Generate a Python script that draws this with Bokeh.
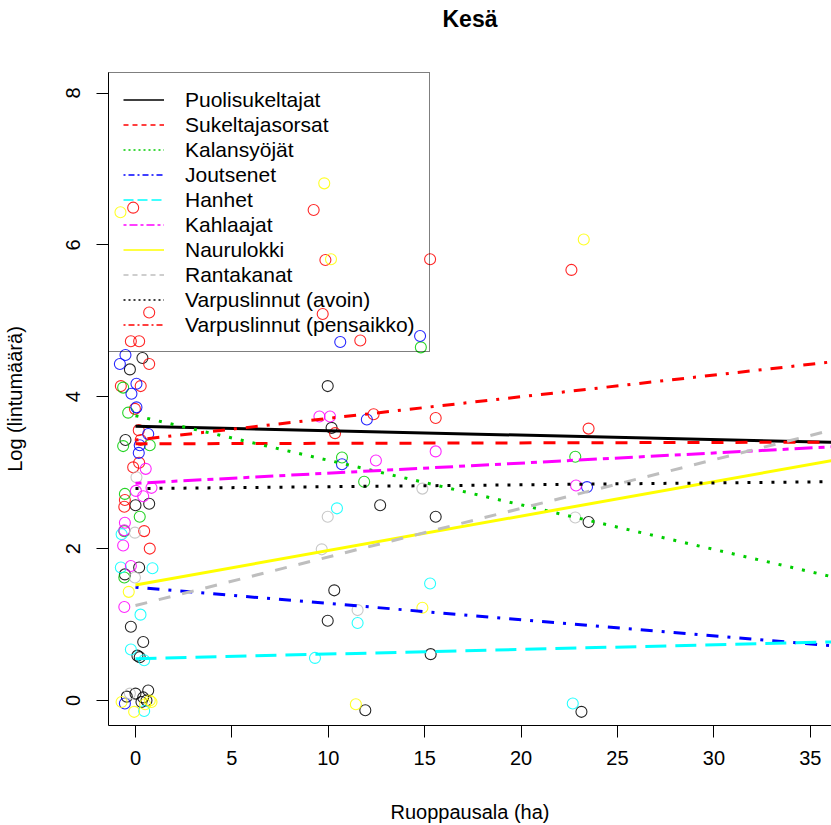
from bokeh.plotting import figure
from bokeh.models import Range1d, Legend, LegendItem, ColumnDataSource, FixedTicker, Title
from bokeh.embed import file_html
from bokeh.resources import INLINE

# ---------------- data ----------------
title_text = "Kesä"
groups = ["Puolisukeltajat", "Sukeltajasorsat", "Kalansyöjät", "Joutsenet", "Hanhet",
          "Kahlaajat", "Naurulokki", "Rantakanat", "Varpuslinnut (avoin)", "Varpuslinnut (pensaikko)"]
colors = ["black", "red", "#00CD00", "blue", "cyan", "magenta", "yellow", "#BEBEBE", "black", "red"]

# observed points (Ruoppausala ha, log count) per group
pts_x = {
    "Puolisukeltajat": [9.97, 10.17, 12.69, 15.57, 23.5, 10.31, 9.97, 15.31, 11.92, 23.13,
                        0.36, -0.29, -0.52, 0.0, 0.71, 0.19, -0.55, -0.24, 0.40, 0.10,
                        0.22, 0.66, -0.45, 0.40, 0.57, 0.31, 0.0],
    "Sukeltajasorsat": [9.24, 9.85, 15.28, 9.71, 11.66, 12.35, 15.57, 10.35, 22.61, 23.5,
                        -0.12, 0.71, -0.24, 0.19, 0.71, -0.76, 0.27, -0.03, 0.17, 0.27,
                        -0.12, 0.19, -0.55, -0.58, 0.45, 0.74],
    "Kalansyöjät": [14.80, 10.71, 11.86, 22.81, -0.64, -0.38, -0.64, 0.74, -0.55, 0.22, -0.58, -0.58],
    "Joutsenet": [10.62, 14.76, 12.0, 10.71, 23.42, -0.52, -0.81, 0.05, -0.21, 0.05, 0.66, 0.22, 0.17, -0.55],
    "Hanhet": [10.45, 15.28, 11.52, 9.31, 22.68, -0.72, -0.76, 0.88, 0.26, -0.24, 0.45, 0.45],
    "Kahlaajat": [9.54, 10.09, 12.47, 15.57, 22.85, 0.53, 0.02, 0.83, 0.40, -0.55, -0.58, -0.64, -0.24, -0.58],
    "Naurulokki": [9.79, 10.14, 23.25, 14.88, 11.43, -0.78, -0.35, -0.72, 0.74, 0.83, -0.07, 0.5],
    "Rantakanat": [14.88, 9.97, 22.81, 9.66, 11.52, 0.05, -0.03, -0.03, -0.29],
    "Varpuslinnut (avoin)": [],
    "Varpuslinnut (pensaikko)": [],
}
pts_y = {
    "Puolisukeltajat": [4.14, 3.59, 2.57, 2.42, 2.35, 1.45, 1.05, 0.61, -0.13, -0.15,
                        4.51, 4.36, 3.43, 2.57, 2.59, 1.75, 1.66, 0.97, 0.77, 0.59,
                        0.57, 0.13, 0.05, 0.04, 0.0, -0.02, 0.09],
    "Sukeltajasorsat": [6.46, 5.80, 5.81, 5.09, 4.74, 3.77, 3.72, 3.52, 5.67, 3.58,
                        6.49, 5.11, 4.73, 4.73, 4.43, 4.14, 4.14, 3.84, 3.56, 3.43,
                        3.07, 3.13, 2.64, 2.55, 2.23, 2.0],
    "Kalansyöjät": [4.65, 3.20, 2.88, 3.21, 4.12, 3.79, 3.35, 3.36, 2.72, 2.42, 2.23, 1.62],
    "Joutsenet": [4.72, 4.80, 3.70, 3.11, 2.81, 4.55, 4.43, 4.17, 4.04, 3.86, 3.51, 3.36, 3.26, -0.04],
    "Hanhet": [2.53, 1.54, 1.02, 0.56, -0.04, 2.19, 1.75, 1.74, 1.13, 0.67, 0.53, -0.14],
    "Kahlaajat": [3.74, 3.74, 3.16, 3.28, 2.83, 3.05, 2.76, 2.80, 2.69, 2.34, 2.24, 2.04, 1.77, 1.23],
    "Naurulokki": [6.81, 5.81, 6.07, 1.22, -0.05, 6.43, 1.43, -0.02, 0.0, -0.02, -0.15, -0.05],
    "Rantakanat": [2.79, 2.42, 2.41, 1.99, 1.19, 2.94, 2.21, 1.62, 0.09],
    "Varpuslinnut (avoin)": [],
    "Varpuslinnut (pensaikko)": [],
}

# fitted regression lines: intercept and slope
fit_intercept = [3.61, 3.38, 3.75, 1.49, 0.55, 2.86, 1.52, 1.25, 2.79, 3.43]
fit_slope = [-0.0058, 0.0006, -0.0587, -0.0213, 0.0061, 0.0133, 0.0454, 0.0640, 0.0025, 0.0285]
fit_x = [0.0, 40.0]

x_ticks = [0, 5, 10, 15, 20, 25, 30, 35]
y_ticks = [0, 2, 4, 6, 8]

plot_dash = ["solid", "12 12", "3 9", "3 9 12 9", "21 9", "6 6 18 6", "solid", "12 12", "3 9", "3 9 12 9"]
legend_dash = ["solid", "5 4", "2 3", "2 3 6 3", "10 4", "3 3 8 3", "solid", "5 4", "2 3", "2 3 6 3"]

FONT = "Liberation Sans"

p = figure(width=831, height=825, output_backend="svg", toolbar_location=None,
           x_range=Range1d(-1.4, 36.1), y_range=Range1d(-0.33, 8.27),
           min_border_left=107, min_border_right=0, min_border_top=72, min_border_bottom=100)
p.outline_line_color = None
p.xgrid.visible = False
p.ygrid.visible = False
p.background_fill_color = "white"
p.border_fill_color = "white"

# spacer panel between frame and title, then the title itself (stacked outward)
p.add_layout(Title(text=" ", text_font_size="2px", standoff=30), "above")
p.add_layout(Title(text=title_text, align="center", vertical_align="top", standoff=10,
                   text_font=FONT, text_font_size="23px", text_font_style="bold",
                   text_color="black"), "above")

for ax in (p.xaxis[0], p.yaxis[0]):
    ax.axis_line_color = "black"
    ax.major_tick_line_color = "black"
    ax.minor_tick_line_color = None
    ax.major_tick_out = 12
    ax.major_tick_in = 0
    ax.major_label_text_font = FONT
    ax.major_label_text_font_size = "20px"
    ax.major_label_text_color = "black"
    ax.axis_label_text_font = FONT
    ax.axis_label_text_font_size = "20px"
    ax.axis_label_text_font_style = "normal"
    ax.axis_label_text_color = "black"

p.xaxis.ticker = FixedTicker(ticks=x_ticks)
p.yaxis.ticker = FixedTicker(ticks=y_ticks)
p.xaxis.axis_label = "Ruoppausala (ha)"
p.yaxis.axis_label = "Log (lintumäärä)"
p.xaxis.major_label_standoff = 13
p.xaxis.axis_label_standoff = 33
p.yaxis.major_label_standoff = 16
p.yaxis.axis_label_standoff = 38
p.yaxis.major_label_orientation = "parallel"

# points
for g, c in zip(groups, colors):
    if pts_x[g]:
        src = ColumnDataSource(dict(x=pts_x[g], y=pts_y[g]))
        p.scatter("x", "y", source=src, marker="circle", size=11, fill_color=None,
                  line_color=c, line_width=1.1, line_alpha=0.85)

# regression lines
for i, g in enumerate(groups):
    ys = [fit_intercept[i] + fit_slope[i] * xv for xv in fit_x]
    p.line(fit_x, ys, line_color=colors[i], line_width=3, line_dash=plot_dash[i])

# legend with thin renderers (NaN data: nothing drawn in the plot area)
nan = float("nan")
items = []
for i, g in enumerate(groups):
    r = p.line(x=[nan, nan], y=[nan, nan], line_color=colors[i], line_width=1.4,
               line_dash=legend_dash[i])
    items.append(LegendItem(label=g, renderers=[r]))

legend = Legend(items=items, location="top_left", margin=0, padding=14, spacing=0,
                glyph_width=41, glyph_height=25, label_height=25, label_standoff=21,
                label_text_font=FONT, label_text_font_size="21px", label_text_color="black",
                border_line_color="black", border_line_width=1,
                background_fill_alpha=0.0, click_policy="none")
p.add_layout(legend)

open("out.html", "w").write(file_html(p, INLINE))
